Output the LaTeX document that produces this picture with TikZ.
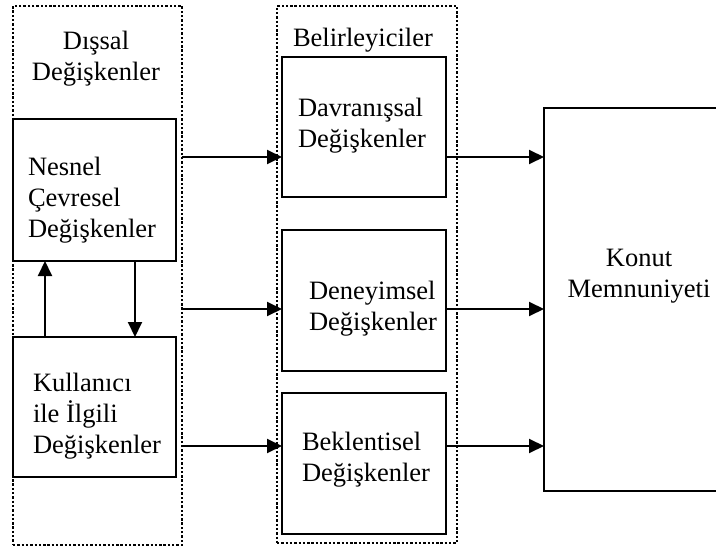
\documentclass[tikz,border=0pt]{standalone}
\usepackage{fontspec}
\setmainfont{Liberation Serif}
\usetikzlibrary{arrows.meta}

\tikzset{
  txt/.style={inner sep=0pt, outer sep=0pt, align=left,
    font=\fontsize{26.5}{31}\selectfont},
  group/.style={draw, line width=2.6pt, dash pattern=on 2.4pt off 1.9pt,
    inner sep=0pt, outer sep=0pt},
  varbox/.style={draw, line width=2.5pt, inner sep=0pt, outer sep=0pt},
  resultbox/.style={draw, line width=1.5pt, inner sep=0pt, outer sep=0pt},
  link/.style={line width=2pt, -{Triangle[length=15pt,width=14pt]}}
}

\begin{document}
\begin{tikzpicture}[x=1pt,y=-1pt]
\useasboundingbox (0,0) rectangle (716,551);
\fill[white] (0,0) rectangle (716,551);
\clip (0,0) rectangle (716,551);

% dotted groups
\node[group, minimum width=169pt, minimum height=539pt] (dissal) at (97.5,275.5) {};
\node[group, minimum width=180pt, minimum height=537pt] (belir) at (367,274.5) {};

% variable boxes
\node[varbox, minimum width=163pt, minimum height=142pt] (nesnel) at (94.5,190) {};
\node[varbox, minimum width=163pt, minimum height=140pt] (kullanici) at (94.5,407) {};
\node[varbox, minimum width=164pt, minimum height=140pt] (davr) at (364,127) {};
\node[varbox, minimum width=164pt, minimum height=141pt] (deney) at (364,300.5) {};
\node[varbox, minimum width=164pt, minimum height=141pt] (bekl) at (364,463.5) {};
\node[resultbox, minimum width=190pt, minimum height=383pt] (konut) at (639,299.5) {};

% labels (anchored at the baseline of their last line)
\node[txt, align=center, anchor=base] (tdissal) at (96,81) {Dışsal\\Değişkenler};
\node[txt, anchor=base west] (tbelir) at (293,47) {Belirleyiciler};
\node[txt, anchor=base west] (tnesnel) at (28,237) {Nesnel\\Çevresel\\Değişkenler};
\node[txt, anchor=base west] (tkull) at (33,453) {Kullanıcı\\ile İlgili\\Değişkenler};
\node[txt, anchor=base west] (tdavr) at (298,147) {Davranışsal\\Değişkenler};
\node[txt, anchor=base west] (tdeney) at (309,330) {Deneyimsel\\Değişkenler};
\node[txt, anchor=base west] (tbekl) at (302,481) {Beklentisel\\Değişkenler};
\node[txt, align=center, anchor=base] (tkonut) at (639,297) {Konut\\Memnuniyeti};

% arrow heights
\coordinate (r1) at (0,157);
\coordinate (r2) at (0,309);
\coordinate (r3) at (0,446);
\coordinate (cup) at (45,0);
\coordinate (cdown) at (135,0);

% feedback between the two groups of external variables
\draw[link] (kullanici.north -| cup) -- (nesnel.south -| cup);
\draw[link] (nesnel.south -| cdown) -- (kullanici.north -| cdown);

% external variables to determinants
\draw[link] (dissal.east |- r1) -- (davr.west |- r1);
\draw[link] (dissal.east |- r2) -- (deney.west |- r2);
\draw[link] (dissal.east |- r3) -- (bekl.west |- r3);

% determinants to satisfaction
\draw[link] (davr.east |- r1) -- (konut.west |- r1);
\draw[link] (deney.east |- r2) -- (konut.west |- r2);
\draw[link] (bekl.east |- r3) -- (konut.west |- r3);
\end{tikzpicture}
\end{document}
